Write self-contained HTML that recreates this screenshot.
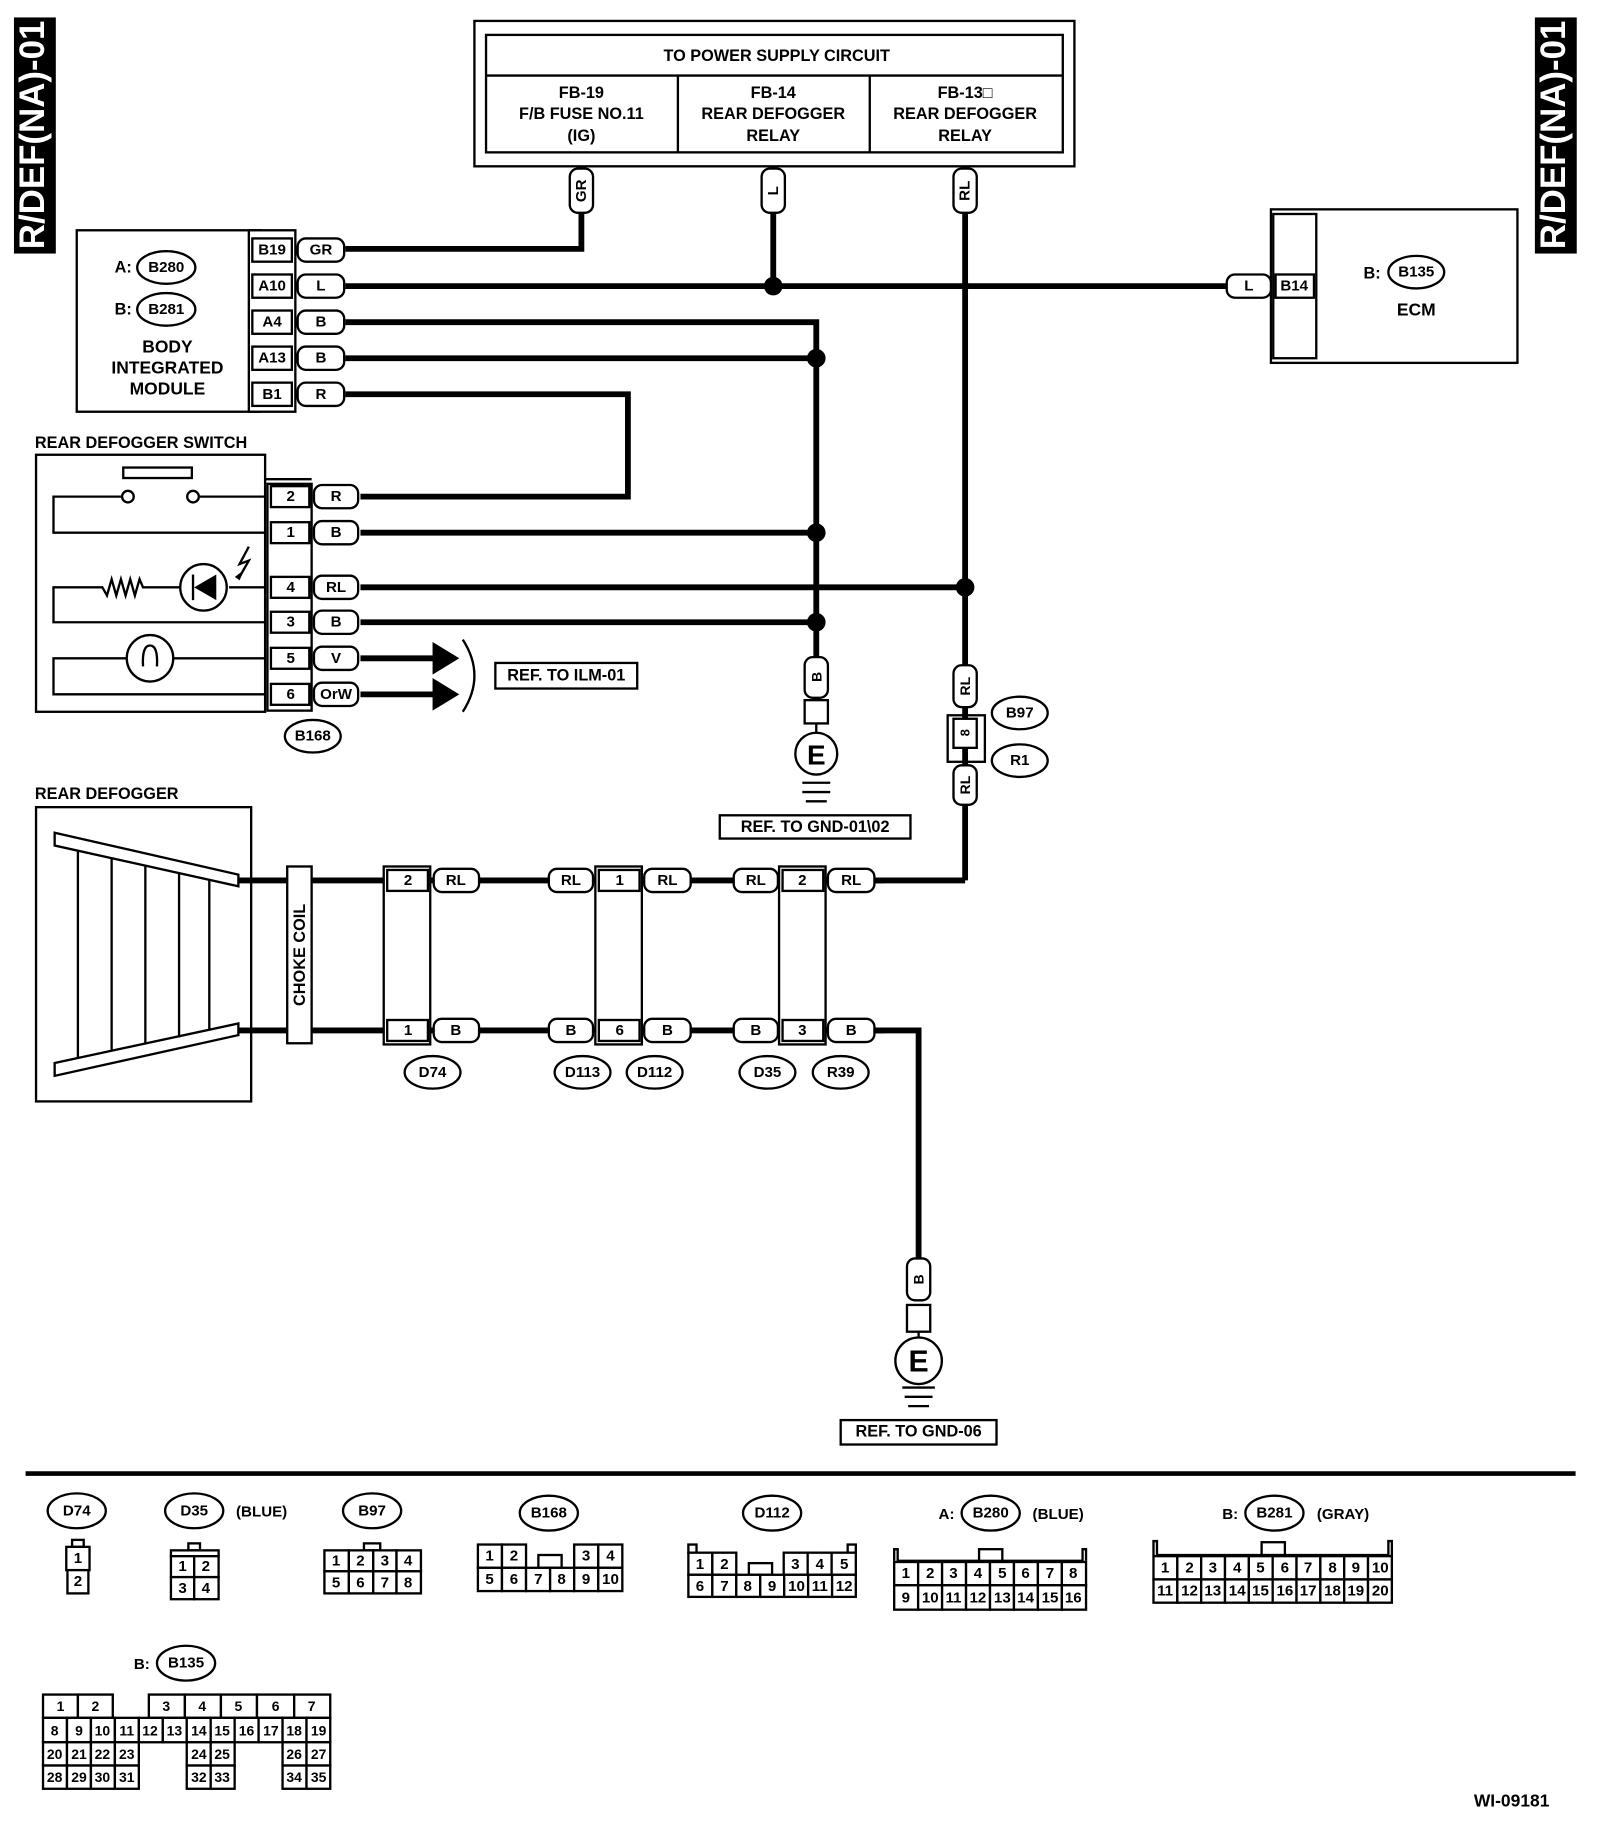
<!DOCTYPE html>
<html><head><meta charset="utf-8"><style>
html,body{margin:0;padding:0;background:#fff}
svg{display:block}
text{font-family:"Liberation Sans",sans-serif;font-weight:bold;fill:#000}
.c{text-anchor:middle;dominant-baseline:central}
.w{fill:none;stroke:#000;stroke-width:5}
.b{fill:#fff;stroke:#000;stroke-width:2}
.t{fill:none;stroke:#000;stroke-width:2}
.p{fill:#fff;stroke:#000;stroke-width:2}
</style></head><body>
<svg width="1600" height="1826" viewBox="0 0 1376 1570" preserveAspectRatio="none" xmlns="http://www.w3.org/2000/svg">
<!-- side labels -->
<rect x="12" y="15" width="36" height="203" fill="#000"/>
<text transform="translate(38,116) rotate(-90)" text-anchor="middle" style="fill:#fff;font-size:30px">R/DEF(NA)-01</text>
<rect x="1320" y="15" width="36" height="203" fill="#000"/>
<text transform="translate(1346,116) rotate(-90)" text-anchor="middle" style="fill:#fff;font-size:30px">R/DEF(NA)-01</text>

<!-- power box -->
<rect x="408" y="18" width="516" height="125" class="b" stroke-width="3"/>
<rect x="418" y="30" width="496" height="101" class="t"/>
<line x1="418" y1="65" x2="914" y2="65" class="t"/>
<line x1="583" y1="65" x2="583" y2="131" class="t"/>
<line x1="748" y1="65" x2="748" y2="131" class="t"/>
<text x="668" y="48" class="c" font-size="14">TO POWER SUPPLY CIRCUIT</text>
<text x="500" y="80" class="c" font-size="14">FB-19</text>
<text x="500" y="98" class="c" font-size="14">F/B FUSE NO.11</text>
<text x="500" y="117" class="c" font-size="14">(IG)</text>
<text x="665" y="80" class="c" font-size="14">FB-14</text>
<text x="665" y="98" class="c" font-size="14">REAR DEFOGGER</text>
<text x="665" y="117" class="c" font-size="14">RELAY</text>
<text x="830" y="80" class="c" font-size="14">FB-13□</text>
<text x="830" y="98" class="c" font-size="14">REAR DEFOGGER</text>
<text x="830" y="117" class="c" font-size="14">RELAY</text>

<!-- wires -->
<polyline points="500,183 500,214 297,214" class="w"/>
<line x1="665" y1="183" x2="665" y2="246" class="w"/>
<line x1="830" y1="183" x2="830" y2="757" class="w"/>
<line x1="297" y1="246" x2="1055" y2="246" class="w"/>
<polyline points="297,277 702,277 702,565" class="w"/>
<line x1="297" y1="308" x2="702" y2="308" class="w"/>
<polyline points="297,339 540,339 540,427 310,427" class="w"/>
<line x1="310" y1="458" x2="702" y2="458" class="w"/>
<line x1="310" y1="505" x2="830" y2="505" class="w"/>
<line x1="310" y1="535" x2="702" y2="535" class="w"/>
<line x1="310" y1="566" x2="375" y2="566" class="w"/>
<line x1="310" y1="597" x2="375" y2="597" class="w"/>
<polygon points="372,552 395,566 372,580" fill="#000"/>
<polygon points="372,583 395,597 372,611" fill="#000"/>
<path d="M398,550 Q418,581 398,612" class="t"/>
<circle cx="665" cy="246" r="8"/><circle cx="702" cy="308" r="8"/>
<circle cx="702" cy="458" r="8"/><circle cx="702" cy="535" r="8"/>
<circle cx="830" cy="505" r="8"/>

<!-- vertical pills top -->
<rect x="490" y="145" width="20" height="38" rx="7" class="p"/>
<text transform="translate(500,164) rotate(-90)" class="c" font-size="13">GR</text>
<rect x="655" y="145" width="20" height="38" rx="7" class="p"/>
<text transform="translate(665,164) rotate(-90)" class="c" font-size="13">L</text>
<rect x="820" y="145" width="20" height="38" rx="7" class="p"/>
<text transform="translate(830,164) rotate(-90)" class="c" font-size="13">RL</text>

<!-- BIM -->
<rect x="66" y="198" width="158" height="156" class="b"/>
<rect x="214" y="198" width="40" height="156" class="b"/>
<text x="106" y="230" class="c" font-size="14">A:</text>
<ellipse cx="143" cy="230" rx="25" ry="14" class="b"/><text x="143" y="230" class="c" font-size="13">B280</text>
<text x="106" y="266" class="c" font-size="14">B:</text>
<ellipse cx="143" cy="266" rx="25" ry="14" class="b"/><text x="143" y="266" class="c" font-size="13">B281</text>
<text x="144" y="298" class="c" font-size="15">BODY</text>
<text x="144" y="316" class="c" font-size="15">INTEGRATED</text>
<text x="144" y="334" class="c" font-size="15">MODULE</text>
<g font-size="13">
<rect x="217" y="205" width="34" height="20" class="b"/><text x="234" y="215" class="c">B19</text>
<rect x="217" y="236" width="34" height="20" class="b"/><text x="234" y="246" class="c">A10</text>
<rect x="217" y="267" width="34" height="20" class="b"/><text x="234" y="277" class="c">A4</text>
<rect x="217" y="298" width="34" height="20" class="b"/><text x="234" y="308" class="c">A13</text>
<rect x="217" y="329" width="34" height="20" class="b"/><text x="234" y="339" class="c">B1</text>
<rect x="256" y="205" width="40" height="20" rx="7" class="p"/><text x="276" y="215" class="c">GR</text>
<rect x="256" y="236" width="40" height="20" rx="7" class="p"/><text x="276" y="246" class="c">L</text>
<rect x="256" y="267" width="40" height="20" rx="7" class="p"/><text x="276" y="277" class="c">B</text>
<rect x="256" y="298" width="40" height="20" rx="7" class="p"/><text x="276" y="308" class="c">B</text>
<rect x="256" y="329" width="40" height="20" rx="7" class="p"/><text x="276" y="339" class="c">R</text>
</g>

<!-- ECM -->
<rect x="1093" y="180" width="212" height="132" class="b"/>
<rect x="1095" y="184" width="37" height="124" class="b"/>
<rect x="1055" y="236" width="38" height="20" rx="7" class="p"/><text x="1074" y="246" class="c" font-size="13">L</text>
<rect x="1097" y="236" width="33" height="20" class="b"/><text x="1113" y="246" class="c" font-size="13">B14</text>
<text x="1180" y="235" class="c" font-size="14">B:</text>
<ellipse cx="1218" cy="234" rx="24" ry="14" class="b"/><text x="1218" y="234" class="c" font-size="13">B135</text>
<text x="1218" y="266" class="c" font-size="15">ECM</text>

<!-- switch -->
<text x="30" y="385" font-size="14">REAR DEFOGGER SWITCH</text>
<rect x="31" y="391" width="197" height="221" class="b"/>
<rect x="106" y="402" width="59" height="9" class="b"/>
<polyline points="228,427 172,427" class="t"/><circle cx="166" cy="427" r="5" class="b"/>
<polyline points="104,427 46,427 46,458 228,458" class="t"/><circle cx="110" cy="427" r="5" class="b"/>
<polyline points="228,505 197,505" class="t"/>
<circle cx="175" cy="505" r="20" class="b"/>
<polygon points="186,494 186,516 167,505" fill="#000"/><line x1="166" y1="494" x2="166" y2="516" class="t"/>
<polyline points="155,505 123,505 120,498 116,512 112,498 108,512 104,498 100,512 96,498 92,512 88,505 46,505 46,535 228,535" class="t"/>
<polyline points="214,470 206,485 214,482 206,496" class="t"/>
<polygon points="202,496 210,490 206,499" fill="#000"/>
<circle cx="129" cy="566" r="20" class="b"/>
<path d="M123,573 Q122,555 129,555 Q136,555 135,573" class="t"/>
<polyline points="228,566 149,566" class="t"/>
<polyline points="109,566 46,566 46,597 228,597" class="t"/>
<line x1="228" y1="412" x2="268" y2="412" class="t"/>
<rect x="230" y="416" width="38" height="195" class="b"/>
<g font-size="13">
<rect x="233" y="418" width="33" height="18" class="b"/><text x="250" y="427" class="c">2</text>
<rect x="233" y="449" width="33" height="18" class="b"/><text x="250" y="458" class="c">1</text>
<rect x="233" y="496" width="33" height="18" class="b"/><text x="250" y="505" class="c">4</text>
<rect x="233" y="526" width="33" height="18" class="b"/><text x="250" y="535" class="c">3</text>
<rect x="233" y="557" width="33" height="18" class="b"/><text x="250" y="566" class="c">5</text>
<rect x="233" y="588" width="33" height="18" class="b"/><text x="250" y="597" class="c">6</text>
<rect x="270" y="417" width="38" height="20" rx="7" class="p"/><text x="289" y="427" class="c">R</text>
<rect x="270" y="448" width="38" height="20" rx="7" class="p"/><text x="289" y="458" class="c">B</text>
<rect x="270" y="495" width="38" height="20" rx="7" class="p"/><text x="289" y="505" class="c">RL</text>
<rect x="270" y="525" width="38" height="20" rx="7" class="p"/><text x="289" y="535" class="c">B</text>
<rect x="270" y="556" width="38" height="20" rx="7" class="p"/><text x="289" y="566" class="c">V</text>
<rect x="270" y="587" width="38" height="20" rx="7" class="p"/><text x="289" y="597" class="c">OrW</text>
</g>
<ellipse cx="269" cy="633" rx="24" ry="14" class="b"/><text x="269" y="633" class="c" font-size="13">B168</text>
<rect x="426" y="570" width="122" height="22" class="b"/><text x="487" y="581" class="c" font-size="14">REF. TO ILM-01</text>

<!-- ground 1 -->
<rect x="692" y="565" width="20" height="35" rx="7" class="p"/><text transform="translate(702,582) rotate(-90)" class="c" font-size="12">B</text>
<rect x="692" y="602" width="20" height="20" class="b"/>
<line x1="702" y1="622" x2="702" y2="630" class="t"/>
<circle cx="702" cy="648" r="18" class="b"/><text x="702" y="649" class="c" font-size="24">E</text>
<line x1="690" y1="673" x2="714" y2="673" class="t"/><line x1="690" y1="681" x2="714" y2="681" class="t"/><line x1="693" y1="689" x2="711" y2="689" class="t"/>
<rect x="619" y="701" width="164" height="20" class="b"/><text x="701" y="711" class="c" font-size="14">REF. TO GND-01\02</text>

<!-- B97 -->
<rect x="820" y="572" width="20" height="36" rx="7" class="p"/><text transform="translate(830,590) rotate(-90)" class="c" font-size="12">RL</text>
<rect x="815" y="615" width="32" height="40" class="t"/>
<rect x="820" y="618" width="20" height="25" class="b"/><text transform="translate(830,630) rotate(-90)" class="c" font-size="11">8</text>
<rect x="820" y="658" width="20" height="34" rx="7" class="p"/><text transform="translate(830,675) rotate(-90)" class="c" font-size="12">RL</text>
<ellipse cx="877" cy="613" rx="24" ry="14" class="b"/><text x="877" y="613" class="c" font-size="13">B97</text>
<ellipse cx="877" cy="654" rx="24" ry="14" class="b"/><text x="877" y="654" class="c" font-size="13">R1</text>

<!-- rear defogger -->
<text x="30" y="687" font-size="14">REAR DEFOGGER</text>
<rect x="31" y="694" width="185" height="253" class="b"/>
<polygon points="47,716 205,752 205,762 47,727" class="b"/>
<polygon points="47,914 205,880 205,890 47,925" class="b"/>
<g class="t"><line x1="67" y1="731" x2="67" y2="910"/><line x1="96" y1="738" x2="96" y2="904"/><line x1="125" y1="744" x2="125" y2="898"/><line x1="154" y1="751" x2="154" y2="892"/><line x1="180" y1="757" x2="180" y2="886"/></g>
<line x1="205" y1="757" x2="760" y2="757" class="w"/>
<polyline points="752,757 830,757" class="w"/>
<line x1="205" y1="886" x2="760" y2="886" class="w"/>
<polyline points="750,886 790,886 790,1082" class="w"/>
<rect x="247" y="745" width="21" height="152" class="b"/>
<text transform="translate(258,821) rotate(-90)" class="c" font-size="14">CHOKE COIL</text>

<!-- inline connectors -->
<g font-size="13">
<rect x="330" y="745" width="40" height="153" class="b"/>
<rect x="333" y="748" width="35" height="18" class="b"/><text x="351" y="757" class="c">2</text>
<rect x="333" y="877" width="35" height="18" class="b"/><text x="351" y="886" class="c">1</text>
<rect x="373" y="747" width="39" height="20" rx="7" class="p"/><text x="392" y="757" class="c">RL</text>
<rect x="373" y="876" width="39" height="20" rx="7" class="p"/><text x="392" y="886" class="c">B</text>
<rect x="472" y="747" width="38" height="20" rx="7" class="p"/><text x="491" y="757" class="c">RL</text>
<rect x="472" y="876" width="38" height="20" rx="7" class="p"/><text x="491" y="886" class="c">B</text>
<rect x="512" y="745" width="40" height="153" class="b"/>
<rect x="515" y="748" width="35" height="18" class="b"/><text x="533" y="757" class="c">1</text>
<rect x="515" y="877" width="35" height="18" class="b"/><text x="533" y="886" class="c">6</text>
<rect x="554" y="747" width="40" height="20" rx="7" class="p"/><text x="574" y="757" class="c">RL</text>
<rect x="554" y="876" width="40" height="20" rx="7" class="p"/><text x="574" y="886" class="c">B</text>
<rect x="631" y="747" width="38" height="20" rx="7" class="p"/><text x="650" y="757" class="c">RL</text>
<rect x="631" y="876" width="38" height="20" rx="7" class="p"/><text x="650" y="886" class="c">B</text>
<rect x="670" y="745" width="40" height="153" class="b"/>
<rect x="673" y="748" width="35" height="18" class="b"/><text x="690" y="757" class="c">2</text>
<rect x="673" y="877" width="35" height="18" class="b"/><text x="690" y="886" class="c">3</text>
<rect x="712" y="747" width="40" height="20" rx="7" class="p"/><text x="732" y="757" class="c">RL</text>
<rect x="712" y="876" width="40" height="20" rx="7" class="p"/><text x="732" y="886" class="c">B</text>
<ellipse cx="372" cy="922" rx="24" ry="14" class="b"/><text x="372" y="922" class="c">D74</text>
<ellipse cx="501" cy="922" rx="24" ry="14" class="b"/><text x="501" y="922" class="c">D113</text>
<ellipse cx="563" cy="922" rx="24" ry="14" class="b"/><text x="563" y="922" class="c">D112</text>
<ellipse cx="660" cy="922" rx="24" ry="14" class="b"/><text x="660" y="922" class="c">D35</text>
<ellipse cx="723" cy="922" rx="24" ry="14" class="b"/><text x="723" y="922" class="c">R39</text>
</g>

<!-- ground 2 -->
<rect x="780" y="1082" width="20" height="36" rx="7" class="p"/><text transform="translate(790,1100) rotate(-90)" class="c" font-size="12">B</text>
<rect x="780" y="1122" width="20" height="23" class="b"/>
<line x1="790" y1="1145" x2="790" y2="1150" class="t"/>
<circle cx="790" cy="1170" r="20" class="b"/><text x="790" y="1171" class="c" font-size="26">E</text>
<line x1="776" y1="1193" x2="804" y2="1193" class="t"/><line x1="778" y1="1201" x2="802" y2="1201" class="t"/><line x1="781" y1="1209" x2="799" y2="1209" class="t"/>
<rect x="723" y="1221" width="134" height="21" class="b"/><text x="790" y="1231" class="c" font-size="14">REF. TO GND-06</text>

<line x1="22" y1="1267" x2="1355" y2="1267" stroke="#000" stroke-width="4"/>

<!-- legends -->
<g font-size="13">
<ellipse cx="66" cy="1299" rx="25" ry="15" class="b"/><text x="66" y="1299" class="c">D74</text>
<ellipse cx="167" cy="1299" rx="25" ry="15" class="b"/><text x="167" y="1299" class="c">D35</text><text x="225" y="1300" class="c">(BLUE)</text>
<ellipse cx="320" cy="1299" rx="25" ry="15" class="b"/><text x="320" y="1299" class="c">B97</text>
<ellipse cx="472" cy="1301" rx="25" ry="15" class="b"/><text x="472" y="1301" class="c">B168</text>
<ellipse cx="664" cy="1301" rx="25" ry="15" class="b"/><text x="664" y="1301" class="c">D112</text>
<text x="814" y="1302" class="c">A:</text><ellipse cx="852" cy="1301" rx="25" ry="15" class="b"/><text x="852" y="1301" class="c">B280</text><text x="910" y="1302" class="c">(BLUE)</text>
<text x="1058" y="1302" class="c">B:</text><ellipse cx="1096" cy="1301" rx="25" ry="15" class="b"/><text x="1096" y="1301" class="c">B281</text><text x="1155" y="1302" class="c">(GRAY)</text>
<text x="122" y="1431" class="c">B:</text><ellipse cx="160" cy="1430" rx="25" ry="15" class="b"/><text x="160" y="1430" class="c">B135</text>

<!-- D74 -->
<rect x="62" y="1324" width="10" height="6" class="b"/>
<rect x="57" y="1330" width="20" height="20" class="b"/><text x="67" y="1340" class="c">1</text>
<rect x="58" y="1350" width="18" height="20" class="b"/><text x="67" y="1360" class="c">2</text>
<!-- D35 -->
<rect x="162" y="1327" width="10" height="6" class="b"/>
<rect x="147" y="1333" width="41" height="5" class="b"/>
<rect x="147" y="1338" width="20" height="18" class="b"/><text x="157" y="1347" class="c">1</text>
<rect x="167" y="1338" width="21" height="18" class="b"/><text x="177" y="1347" class="c">2</text>
<rect x="147" y="1356" width="20" height="19" class="b"/><text x="157" y="1366" class="c">3</text>
<rect x="167" y="1356" width="21" height="19" class="b"/><text x="177" y="1366" class="c">4</text>
<!-- B97 -->
<rect x="313" y="1327" width="14" height="6" class="b"/>
<rect x="279" y="1333" width="21" height="18" class="b"/><text x="289" y="1342" class="c">1</text>
<rect x="300" y="1333" width="21" height="18" class="b"/><text x="310" y="1342" class="c">2</text>
<rect x="321" y="1333" width="20" height="18" class="b"/><text x="331" y="1342" class="c">3</text>
<rect x="341" y="1333" width="21" height="18" class="b"/><text x="351" y="1342" class="c">4</text>
<rect x="279" y="1351" width="21" height="19" class="b"/><text x="289" y="1361" class="c">5</text>
<rect x="300" y="1351" width="21" height="19" class="b"/><text x="310" y="1361" class="c">6</text>
<rect x="321" y="1351" width="20" height="19" class="b"/><text x="331" y="1361" class="c">7</text>
<rect x="341" y="1351" width="21" height="19" class="b"/><text x="351" y="1361" class="c">8</text>
<!-- B168 -->
<rect x="411" y="1328" width="20.7" height="20" class="b"/><text x="421" y="1338" class="c">1</text>
<rect x="431.7" y="1328" width="20.7" height="20" class="b"/><text x="442" y="1338" class="c">2</text>
<rect x="463" y="1337" width="20" height="11" class="b"/>
<rect x="493.8" y="1328" width="20.7" height="20" class="b"/><text x="504" y="1338" class="c">3</text>
<rect x="514.5" y="1328" width="20.7" height="20" class="b"/><text x="525" y="1338" class="c">4</text>
<rect x="411" y="1348" width="20.7" height="20" class="b"/><text x="421" y="1358" class="c">5</text>
<rect x="431.7" y="1348" width="20.7" height="20" class="b"/><text x="442" y="1358" class="c">6</text>
<rect x="452.4" y="1348" width="20.7" height="20" class="b"/><text x="463" y="1358" class="c">7</text>
<rect x="473.1" y="1348" width="20.7" height="20" class="b"/><text x="483" y="1358" class="c">8</text>
<rect x="493.8" y="1348" width="20.7" height="20" class="b"/><text x="504" y="1358" class="c">9</text>
<rect x="514.5" y="1348" width="20.7" height="20" class="b"/><text x="525" y="1358" class="c">10</text>
<!-- D112 -->
<rect x="592" y="1328" width="7" height="7" class="b"/><rect x="729" y="1328" width="7" height="7" class="b"/>
<rect x="592" y="1335" width="20.6" height="19" class="b"/><text x="602" y="1345" class="c">1</text>
<rect x="612.6" y="1335" width="20.6" height="19" class="b"/><text x="623" y="1345" class="c">2</text>
<rect x="644" y="1344" width="20" height="10" class="b"/>
<rect x="674" y="1335" width="20.6" height="19" class="b"/><text x="684" y="1345" class="c">3</text>
<rect x="694.6" y="1335" width="20.6" height="19" class="b"/><text x="705" y="1345" class="c">4</text>
<rect x="715.2" y="1335" width="20.8" height="19" class="b"/><text x="726" y="1345" class="c">5</text>
<rect x="592" y="1354" width="20.6" height="19" class="b"/><text x="602" y="1364" class="c">6</text>
<rect x="612.6" y="1354" width="20.6" height="19" class="b"/><text x="623" y="1364" class="c">7</text>
<rect x="633.2" y="1354" width="20.6" height="19" class="b"/><text x="643" y="1364" class="c">8</text>
<rect x="653.8" y="1354" width="20.6" height="19" class="b"/><text x="664" y="1364" class="c">9</text>
<rect x="674.4" y="1354" width="20.6" height="19" class="b"/><text x="685" y="1364" class="c">10</text>
<rect x="695" y="1354" width="20.6" height="19" class="b"/><text x="705" y="1364" class="c">11</text>
<rect x="715.6" y="1354" width="20.4" height="19" class="b"/><text x="726" y="1364" class="c">12</text>
<!-- B280 -->
<polyline points="769,1342 769,1332 772,1332 772,1342 931,1342 931,1332 934,1332 934,1342" class="t"/>
<rect x="842" y="1332" width="20" height="10" class="b"/>
<g>
<rect x="769" y="1343" width="20.6" height="20" class="b"/><text x="779" y="1353" class="c">1</text>
<rect x="789.6" y="1343" width="20.6" height="20" class="b"/><text x="800" y="1353" class="c">2</text>
<rect x="810.2" y="1343" width="20.6" height="20" class="b"/><text x="820" y="1353" class="c">3</text>
<rect x="830.8" y="1343" width="20.6" height="20" class="b"/><text x="841" y="1353" class="c">4</text>
<rect x="851.4" y="1343" width="20.6" height="20" class="b"/><text x="862" y="1353" class="c">5</text>
<rect x="872" y="1343" width="20.6" height="20" class="b"/><text x="882" y="1353" class="c">6</text>
<rect x="892.6" y="1343" width="20.6" height="20" class="b"/><text x="903" y="1353" class="c">7</text>
<rect x="913.2" y="1343" width="20.8" height="20" class="b"/><text x="923" y="1353" class="c">8</text>
<rect x="769" y="1363" width="20.6" height="21" class="b"/><text x="779" y="1374" class="c">9</text>
<rect x="789.6" y="1363" width="20.6" height="21" class="b"/><text x="800" y="1374" class="c">10</text>
<rect x="810.2" y="1363" width="20.6" height="21" class="b"/><text x="820" y="1374" class="c">11</text>
<rect x="830.8" y="1363" width="20.6" height="21" class="b"/><text x="841" y="1374" class="c">12</text>
<rect x="851.4" y="1363" width="20.6" height="21" class="b"/><text x="862" y="1374" class="c">13</text>
<rect x="872" y="1363" width="20.6" height="21" class="b"/><text x="882" y="1374" class="c">14</text>
<rect x="892.6" y="1363" width="20.6" height="21" class="b"/><text x="903" y="1374" class="c">15</text>
<rect x="913.2" y="1363" width="20.8" height="21" class="b"/><text x="923" y="1374" class="c">16</text>
</g>
<!-- B281 -->
<polyline points="992,1337 992,1325 995,1325 995,1337 1194,1337 1194,1325 1197,1325 1197,1337" class="t"/>
<rect x="1085" y="1326" width="20" height="11" class="b"/>
<rect x="992" y="1338" width="20.5" height="20" class="b"/><text x="1002" y="1348" class="c">1</text>
<rect x="1012.5" y="1338" width="20.5" height="20" class="b"/><text x="1023" y="1348" class="c">2</text>
<rect x="1033" y="1338" width="20.5" height="20" class="b"/><text x="1043" y="1348" class="c">3</text>
<rect x="1053.5" y="1338" width="20.5" height="20" class="b"/><text x="1064" y="1348" class="c">4</text>
<rect x="1074" y="1338" width="20.5" height="20" class="b"/><text x="1084" y="1348" class="c">5</text>
<rect x="1094.5" y="1338" width="20.5" height="20" class="b"/><text x="1105" y="1348" class="c">6</text>
<rect x="1115" y="1338" width="20.5" height="20" class="b"/><text x="1125" y="1348" class="c">7</text>
<rect x="1135.5" y="1338" width="20.5" height="20" class="b"/><text x="1146" y="1348" class="c">8</text>
<rect x="1156" y="1338" width="20.5" height="20" class="b"/><text x="1166" y="1348" class="c">9</text>
<rect x="1176.5" y="1338" width="20.5" height="20" class="b"/><text x="1187" y="1348" class="c">10</text>
<rect x="992" y="1358" width="20.5" height="20" class="b"/><text x="1002" y="1368" class="c">11</text>
<rect x="1012.5" y="1358" width="20.5" height="20" class="b"/><text x="1023" y="1368" class="c">12</text>
<rect x="1033" y="1358" width="20.5" height="20" class="b"/><text x="1043" y="1368" class="c">13</text>
<rect x="1053.5" y="1358" width="20.5" height="20" class="b"/><text x="1064" y="1368" class="c">14</text>
<rect x="1074" y="1358" width="20.5" height="20" class="b"/><text x="1084" y="1368" class="c">15</text>
<rect x="1094.5" y="1358" width="20.5" height="20" class="b"/><text x="1105" y="1368" class="c">16</text>
<rect x="1115" y="1358" width="20.5" height="20" class="b"/><text x="1125" y="1368" class="c">17</text>
<rect x="1135.5" y="1358" width="20.5" height="20" class="b"/><text x="1146" y="1368" class="c">18</text>
<rect x="1156" y="1358" width="20.5" height="20" class="b"/><text x="1166" y="1368" class="c">19</text>
<rect x="1176.5" y="1358" width="20.5" height="20" class="b"/><text x="1187" y="1368" class="c">20</text>
</g>
<!-- B135 -->
<g font-size="12">
<rect x="37" y="1457" width="30" height="20" class="b"/><text x="52" y="1467" class="c">1</text>
<rect x="67" y="1457" width="30" height="20" class="b"/><text x="82" y="1467" class="c">2</text>
<rect x="128" y="1457" width="31" height="20" class="b"/><text x="143" y="1467" class="c">3</text>
<rect x="159" y="1457" width="31" height="20" class="b"/><text x="174" y="1467" class="c">4</text>
<rect x="190" y="1457" width="31" height="20" class="b"/><text x="205" y="1467" class="c">5</text>
<rect x="221" y="1457" width="32" height="20" class="b"/><text x="237" y="1467" class="c">6</text>
<rect x="253" y="1457" width="31" height="20" class="b"/><text x="268" y="1467" class="c">7</text>
<rect x="37" y="1477" width="20.6" height="21" class="b"/><text x="47" y="1488" class="c">8</text>
<rect x="57.6" y="1477" width="20.6" height="21" class="b"/><text x="68" y="1488" class="c">9</text>
<rect x="78.2" y="1477" width="20.6" height="21" class="b"/><text x="88" y="1488" class="c">10</text>
<rect x="98.8" y="1477" width="20.6" height="21" class="b"/><text x="109" y="1488" class="c">11</text>
<rect x="119.4" y="1477" width="20.6" height="21" class="b"/><text x="129" y="1488" class="c">12</text>
<rect x="140" y="1477" width="20.6" height="21" class="b"/><text x="150" y="1488" class="c">13</text>
<rect x="160.6" y="1477" width="20.6" height="21" class="b"/><text x="171" y="1488" class="c">14</text>
<rect x="181.2" y="1477" width="20.6" height="21" class="b"/><text x="191" y="1488" class="c">15</text>
<rect x="201.8" y="1477" width="20.6" height="21" class="b"/><text x="212" y="1488" class="c">16</text>
<rect x="222.4" y="1477" width="20.6" height="21" class="b"/><text x="233" y="1488" class="c">17</text>
<rect x="243" y="1477" width="20.6" height="21" class="b"/><text x="253" y="1488" class="c">18</text>
<rect x="263.6" y="1477" width="20.4" height="21" class="b"/><text x="274" y="1488" class="c">19</text>
<rect x="37" y="1498" width="20.6" height="20" class="b"/><text x="47" y="1508" class="c">20</text>
<rect x="57.6" y="1498" width="20.6" height="20" class="b"/><text x="68" y="1508" class="c">21</text>
<rect x="78.2" y="1498" width="20.6" height="20" class="b"/><text x="88" y="1508" class="c">22</text>
<rect x="98.8" y="1498" width="20.6" height="20" class="b"/><text x="109" y="1508" class="c">23</text>
<rect x="160.6" y="1498" width="20.6" height="20" class="b"/><text x="171" y="1508" class="c">24</text>
<rect x="181.2" y="1498" width="20.6" height="20" class="b"/><text x="191" y="1508" class="c">25</text>
<rect x="243" y="1498" width="20.6" height="20" class="b"/><text x="253" y="1508" class="c">26</text>
<rect x="263.6" y="1498" width="20.4" height="20" class="b"/><text x="274" y="1508" class="c">27</text>
<rect x="37" y="1518" width="20.6" height="20" class="b"/><text x="47" y="1528" class="c">28</text>
<rect x="57.6" y="1518" width="20.6" height="20" class="b"/><text x="68" y="1528" class="c">29</text>
<rect x="78.2" y="1518" width="20.6" height="20" class="b"/><text x="88" y="1528" class="c">30</text>
<rect x="98.8" y="1518" width="20.6" height="20" class="b"/><text x="109" y="1528" class="c">31</text>
<rect x="160.6" y="1518" width="20.6" height="20" class="b"/><text x="171" y="1528" class="c">32</text>
<rect x="181.2" y="1518" width="20.6" height="20" class="b"/><text x="191" y="1528" class="c">33</text>
<rect x="243" y="1518" width="20.6" height="20" class="b"/><text x="253" y="1528" class="c">34</text>
<rect x="263.6" y="1518" width="20.4" height="20" class="b"/><text x="274" y="1528" class="c">35</text>
</g>
<text x="1300" y="1548" class="c" font-size="15">WI-09181</text>
</svg>
</body></html>
